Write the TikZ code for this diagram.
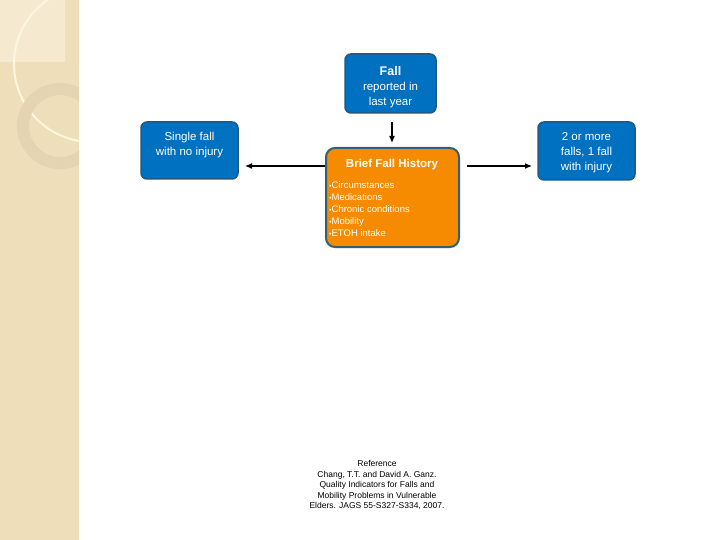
\documentclass[tikz,border=0pt]{standalone}
\usepackage{fontspec}
\setmainfont{Liberation Sans}
\usetikzlibrary{arrows.meta}
\definecolor{strip}{RGB}{238,222,186}
\definecolor{stripl}{RGB}{245,234,208}
\definecolor{ringc}{RGB}{228,213,178}
\definecolor{arcc}{RGB}{252,246,224}
\definecolor{boxblue}{RGB}{0,112,192}
\definecolor{boxedge}{RGB}{31,90,130}
\definecolor{boxorange}{RGB}{246,138,0}
\definecolor{oedge}{RGB}{52,96,118}
\newcommand{\bul}{{\fontsize{7}{7}\selectfont\textbullet}}
\tikzset{
  bluebox/.style={draw=boxedge, line width=1.5pt, fill=boxblue, rounded corners=6pt, text=white, align=center, inner sep=0pt},
  orangebox/.style={draw=oedge, line width=2pt, fill=boxorange, rounded corners=9pt, inner sep=0pt},
  conn/.style={-{Latex[length=7pt,width=6pt]}, line width=1.2pt, black},
  txt/.style={font=\fontsize{11.5}{15}\selectfont, text=white, align=center},
}
\begin{document}
\begin{tikzpicture}[x=1pt,y=-1pt]
\useasboundingbox (0,0) rectangle (720,540);
\fill[white] (0,0) rectangle (720,540);
% left decorative strip
\begin{scope}
\clip (0,0) rectangle (79,540);
\fill[strip] (0,0) rectangle (79,540);
\fill[stripl] (0,0) rectangle (65,62);
\draw[arcc, line width=2pt] (92,64) circle (78);
\draw[ringc, line width=12pt] (60,126) circle (37);
\end{scope}
% nodes
\node[bluebox, minimum width=91pt, minimum height=59pt] (fall) at (390.5,83.5) {};
\node[txt, anchor=north] (falltxt) at (390.5,62.5) {{\fontsize{12.5}{15}\selectfont\bfseries Fall}\\reported in\\last year};
\node[orangebox, minimum width=133pt, minimum height=99pt] (hist) at (392.5,197.5) {};
\node[font=\fontsize{11.5}{13}\selectfont\bfseries, text=white] (histtitle) at (392,165) {Brief Fall History};
\node[font=\fontsize{9.5}{12}\selectfont, text=white, align=left, anchor=north west, inner sep=0pt] (bullets) at (329,181.5) {\bul Circumstances\\\bul Medications\\\bul Chronic conditions\\\bul Mobility\\\bul ETOH intake};
\node[bluebox, minimum width=97pt, minimum height=57pt] (single) at (189.5,150.5) {};
\node[txt, anchor=north] (singletxt) at (189.5,128.5) {Single fall\\with no injury};
\node[bluebox, minimum width=97pt, minimum height=58pt] (multi) at (586.5,151) {};
\node[txt, anchor=north] (multitxt) at (586.5,129) {2 or more\\falls, 1 fall\\with injury};
\coordinate (a1) at (392,122);
\coordinate (a2) at (392,143);
\coordinate (l1) at (325,166);
\coordinate (l2) at (245,166);
\coordinate (r1) at (467,166);
\coordinate (r2) at (532,166);
\draw[conn] (a1) -- (a2);
\draw[conn] (l1) -- (l2);
\draw[conn] (r1) -- (r2);
\node[font=\fontsize{8.5}{10.5}\selectfont, align=center, anchor=north] (ref) at (377,457) {Reference\\Chang, T.T. and David A. Ganz.\\Quality Indicators for Falls and\\Mobility Problems in Vulnerable\\Elders. JAGS 55-S327-S334, 2007.};
\end{tikzpicture}
\end{document}
